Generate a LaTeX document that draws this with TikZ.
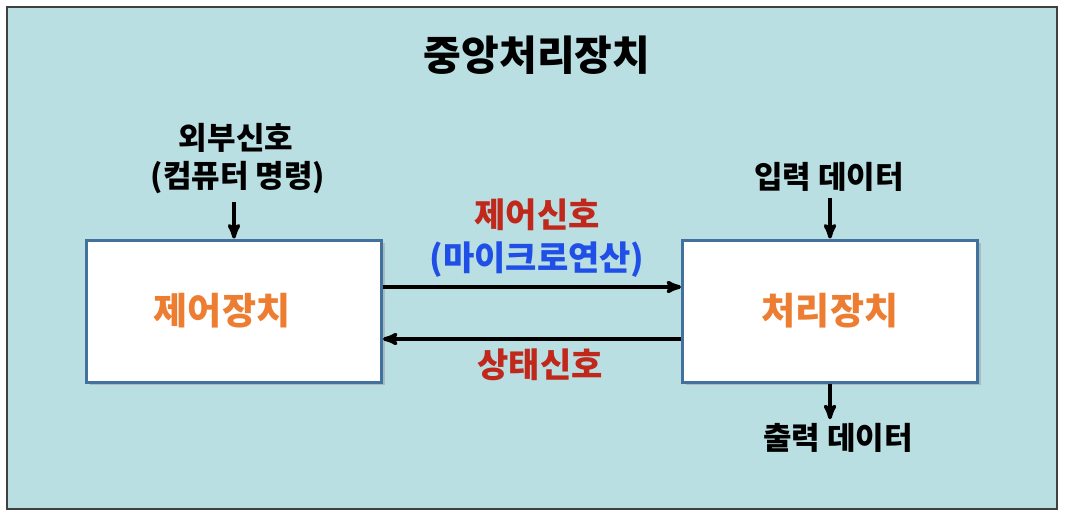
\documentclass[tikz,border=0pt]{standalone}
\usepackage{fontspec}
\setmainfont{Noto Sans CJK KR}
\usetikzlibrary{arrows,positioning,shadows}
\definecolor{bgteal}{HTML}{BADFE2}
\definecolor{boxblue}{HTML}{41719C}
\definecolor{unitorange}{HTML}{ED7D31}
\definecolor{sigred}{HTML}{C0281C}
\definecolor{sigblue}{HTML}{1F4FE6}

\begin{document}
\begin{tikzpicture}[x=1pt,y=-1pt,>=stealth',
        unit/.style={draw=boxblue,line width=3pt,fill=white,minimum width=295pt,
            minimum height=142pt,font=\fontsize{37}{42}\selectfont\bfseries,
            text=unitorange,drop shadow={shadow xshift=3pt,shadow yshift=-3pt,opacity=0.35}},
        lbl/.style={inner sep=2pt,font=\fontsize{31}{36}\selectfont\bfseries},
        sig/.style={lbl,font=\fontsize{34}{40}\selectfont\bfseries},
        conn/.style={->,line width=3.6pt}]

    \useasboundingbox (0,0) rectangle (1070,514);
    \draw[draw=black!75,line width=1.5pt,fill=bgteal] (7,7) rectangle (1057,509);

    \node[font=\fontsize{41}{46}\selectfont\bfseries] (cpu) at (537,55) {중앙처리장치};

    \node[unit] (0) at (234,311) {\hspace*{-24pt}제어장치};
    \node[unit] (1) at (830,311) {처리장치};

    \node[lbl] (ext) at (236,138) {외부신호};
    \node[lbl] (cmd) at (238,178) {(컴퓨터 명령)};
    \node[lbl] (in) at (829,177) {입력 데이터};
    \node[lbl] (out) at (838,438) {출력 데이터};

    \node[sig,text=sigred] (ctl) at (537,215) {제어신호};
    \node[sig,text=sigblue] (micro) at (537,260) {(마이크로연산)};
    \node[sig,text=sigred] (stat) at (540,365) {상태신호};

    \draw[conn] ([yshift=-6pt]cmd.south -| 0.north) -- (0.north);
    \draw[conn] ([yshift=-4pt]in.south -| 1.north) -- (1.north);
    \draw[conn] (1.south) -- ([yshift=2pt]out.north -| 1.south);
    \draw[conn] ([yshift=24pt]0.east) -- ([yshift=24pt]1.west);
    \draw[conn] ([yshift=-28pt]1.west) -- ([yshift=-28pt]0.east);

\end{tikzpicture}
\end{document}
